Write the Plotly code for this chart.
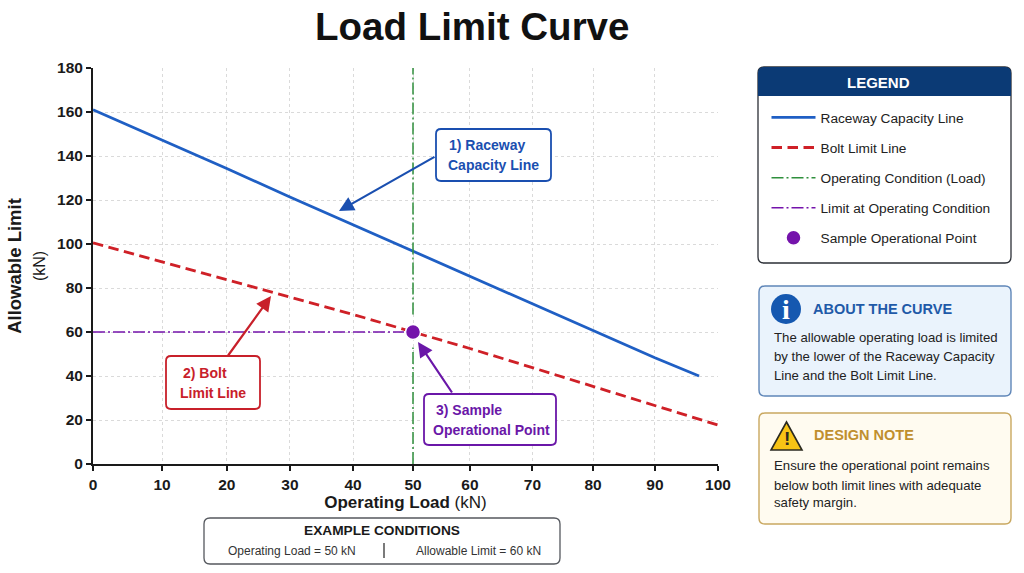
import numpy as np
import plotly.graph_objects as go

W, H = 1024, 573
FONT = "Liberation Sans"

# Chart values, in kN
tick_loads = [0, 10, 20, 30, 40, 50, 60, 70, 80, 90, 100]
raceway_load = [0, 10, 20, 30, 40, 50, 60, 70, 80, 90, 97]
raceway_limit = [161, 147.4, 134.3, 121.4, 108.7, 96.8, 85.3, 72.9, 60.6, 48.3, 40]
bolt_load = [0, 10, 20, 30, 40, 50, 60, 70, 80, 90, 100]
bolt_limit = [100.5, 91.8, 83.7, 75.9, 68, 60, 52.5, 43.8, 35.2, 26.6, 17.7]
limit_ticks = [0, 20, 40, 60, 80, 100, 120, 140, 160, 180]
operating_load = 50
operating_limit = 60
operating_line_y = [0, 53, None, 68, 180]
limit_line_end = 48.5

# The load axis has uneven spacing between its decades
tick_spacing = [0, 11.04, 21.4, 31.5, 41.6, 51.2, 60.3, 70.3, 80.0, 89.9, 100]


def load_scale(values):
    return np.interp(values, tick_loads, tick_spacing).tolist()


# Plot frame in page pixels
L, R, T, B = 93, 718, 68, 464


def xp(v):
    return (v - L) / (R - L)


def yp(v):
    return (B - v) / (B - T)


fig = go.Figure()

BLUE, RED, GREEN, PURPLE = "#1f5fc4", "#cf2027", "#2f8f3c", "#7413ab"
DASH_DOT = "12px,3px,2px,3px"

fig.add_trace(go.Scatter(x=load_scale(raceway_load), y=raceway_limit, mode="lines",
                         name="Raceway Capacity Line",
                         line=dict(color=BLUE, width=2.8), legendgroup="a"))
fig.add_trace(go.Scatter(x=load_scale(bolt_load), y=bolt_limit, mode="lines",
                         name="Bolt Limit Line",
                         line=dict(color=RED, width=2.8, dash="10.5px,5.5px"), legendgroup="b"))
fig.add_trace(go.Scatter(x=load_scale([operating_load] * 5), y=operating_line_y, mode="lines",
                         name="Operating Condition (Load)", connectgaps=False,
                         line=dict(color=GREEN, width=1.5, dash=DASH_DOT), legendgroup="c"))
fig.add_trace(go.Scatter(x=load_scale([0, limit_line_end]), y=[operating_limit, operating_limit],
                         mode="lines", name="Limit at Operating Condition",
                         line=dict(color=PURPLE, width=1.5, dash=DASH_DOT), legendgroup="d"))
fig.add_trace(go.Scatter(x=load_scale([operating_load]), y=[operating_limit], mode="markers",
                         name="Sample Operational Point",
                         marker=dict(color=PURPLE, size=15, line=dict(color="white", width=1.5)),
                         legendgroup="e"))

shapes = []
annotations = []


def rounded(x0, y0, x1, y1, r=5):
    return (f"M{xp(x0+r)},{yp(y0)} L{xp(x1-r)},{yp(y0)} Q{xp(x1)},{yp(y0)} {xp(x1)},{yp(y0+r)} "
            f"L{xp(x1)},{yp(y1-r)} Q{xp(x1)},{yp(y1)} {xp(x1-r)},{yp(y1)} "
            f"L{xp(x0+r)},{yp(y1)} Q{xp(x0)},{yp(y1)} {xp(x0)},{yp(y1-r)} "
            f"L{xp(x0)},{yp(y0+r)} Q{xp(x0)},{yp(y0)} {xp(x0+r)},{yp(y0)} Z")


def box(x0, y0, x1, y1, fill, edge, width=1.8, r=5, layer="above"):
    shapes.append(dict(type="path", xref="paper", yref="paper", path=rounded(x0, y0, x1, y1, r),
                       fillcolor=fill, line=dict(color=edge, width=width), layer=layer))


def text(s, x, y, size=13.2, color="#222222", anchor="left", bold=False, family=FONT):
    # Annotations pad their text by about 2px on the left
    nudge = -2 if anchor == "left" else 0
    annotations.append(dict(text=f"<b>{s}</b>" if bold else s, x=xp(x + nudge), y=yp(y), xref="paper", yref="paper",
                            xanchor=anchor, yanchor="middle", showarrow=False,
                            font=dict(family=family, size=size, color=color)))


def arrow(x0, y0, x1, y1, color):
    annotations.append(dict(text="", x=xp(x1), y=yp(y1), xref="paper", yref="paper",
                            ax=x0 - x1, ay=y0 - y1, axref="pixel", ayref="pixel",
                            showarrow=True, arrowhead=2, arrowsize=1.35, arrowwidth=2.2,
                            arrowcolor=color))


# Callouts pointing at the three marks
CALL_BLUE, CALL_RED, CALL_PURPLE = "#1a4fb0", "#c8202a", "#6a17a8"
arrow(436, 156, 339, 211, CALL_BLUE)
arrow(227, 357, 271, 296, CALL_RED)
arrow(453, 394, 418, 342, CALL_PURPLE)

box(436, 129, 551, 181, "white", CALL_BLUE)
text("1) Raceway", 487, 145, 14, CALL_BLUE, "center", True)
text("Capacity Line", 494, 165, 14, CALL_BLUE, "center", True)

box(166, 356, 260, 409, "white", CALL_RED)
text("2) Bolt", 205, 373, 14, CALL_RED, "center", True)
text("Limit Line", 213, 393, 14, CALL_RED, "center", True)

box(424, 394, 556, 445, "white", CALL_PURPLE)
text("3) Sample", 469, 410, 14, CALL_PURPLE, "center", True)
text("Operational Point", 491, 430, 14, CALL_PURPLE, "center", True)

# Title
text("Load Limit Curve", 472, 27, 38.5, "#111111", "center", True)

# Legend panel behind the plotly legend
box(758, 67, 1011, 263, "white", "#2b2f36", 1.3, 6, "below")
shapes.append(dict(type="path", xref="paper", yref="paper", layer="below", fillcolor="#0b3a75", line_width=0,
                   path=(f"M{xp(758)},{yp(96)} L{xp(758)},{yp(73)} Q{xp(758)},{yp(67)} {xp(764)},{yp(67)} "
                         f"L{xp(1005)},{yp(67)} Q{xp(1011)},{yp(67)} {xp(1011)},{yp(73)} L{xp(1011)},{yp(96)} Z")))
text("LEGEND", 878, 82, 15, "white", "center", True)

# About panel
box(759, 286, 1011, 396, "#eaf3fc", "#5f86b8", 1.4, 6, "below")
shapes.append(dict(type="circle", xref="paper", yref="paper", x0=xp(771), x1=xp(801), y0=yp(324), y1=yp(294),
                   fillcolor="#1558b0", line_width=0, layer="below"))
text("i", 786, 309, 28, "white", "center", True, "Liberation Serif")
text("ABOUT THE CURVE", 813, 309, 14.5, "#1f5aa8", "left", True)
for line, y in zip(["The allowable operating load is limited",
                    "by the lower of the Raceway Capacity",
                    "Line and the Bolt Limit Line."], [337, 356, 375]):
    text(line, 774, y)

# Design note panel
box(759, 413, 1011, 524, "#fffbf0", "#c9a860", 1.4, 6, "below")
shapes.append(dict(type="path", xref="paper", yref="paper", layer="below", fillcolor="#f7c315",
                   line=dict(color="#2b2a20", width=1.6),
                   path=f"M{xp(786.5)},{yp(422)} L{xp(802)},{yp(450)} L{xp(771)},{yp(450)} Z"))
text("!", 786.5, 438, 19, "#2b2a20", "center", True)
text("DESIGN NOTE", 814, 435, 14.5, "#c08f2e", "left", True)
for line, y in zip(["Ensure the operational point remains",
                    "below both limit lines with adequate",
                    "safety margin."], [466, 485, 503]):
    text(line, 774, y)

# Example conditions strip
box(204, 518, 560, 564, "white", "#55585e", 1.3, 6, "below")
text("EXAMPLE CONDITIONS", 382, 530, 13.7, "#1a1a1a", "center", True)
text(f"Operating Load = {operating_load} kN", 292, 551, 12, "#333333", "center")
text(f"Allowable Limit = {operating_limit} kN", 478, 551, 12, "#333333", "center")
shapes.append(dict(type="line", xref="paper", yref="paper", x0=xp(384), x1=xp(384), y0=yp(543), y1=yp(558),
                   line=dict(color="#333333", width=1.3)))

axis_common = dict(showgrid=True, gridcolor="#dadada", griddash="dot", gridwidth=1,
                   showline=True, linecolor="#1a1a1a", linewidth=2, ticks="outside", ticklen=5,
                   tickcolor="#1a1a1a", tickwidth=1.5, zeroline=False,
                   tickfont=dict(family=FONT, size=15.5, color="#1a1a1a", weight="bold"))

fig.update_layout(
    width=W, height=H, autosize=False,
    margin=dict(l=L, r=W - R, t=T, b=H - B, pad=0),
    paper_bgcolor="white", plot_bgcolor="white",
    shapes=shapes, annotations=annotations,
    xaxis=dict(axis_common, range=[0, 100], tickmode="array",
               tickvals=load_scale(tick_loads), ticktext=[str(v) for v in tick_loads],
               title=dict(text="<b>Operating Load</b> (kN)", standoff=5,
                          font=dict(family=FONT, size=17, color="#1a1a1a"))),
    yaxis=dict(axis_common, range=[0, 180], tickmode="array",
               tickvals=limit_ticks, ticktext=[str(v) for v in limit_ticks],
               title=dict(text="<b>Allowable Limit</b><br><span style='font-size:16px'>(kN)</span>", standoff=7,
                          font=dict(family=FONT, size=18.5, color="#1a1a1a"))),
    legend=dict(x=xp(766.5), y=yp(102), xanchor="left", yanchor="top", bgcolor="rgba(0,0,0,0)",
                itemwidth=44, tracegroupgap=9.3, traceorder="grouped",
                font=dict(family=FONT, size=13.7, color="#222222")),
    showlegend=True,
)

fig.write_html("out.html")
